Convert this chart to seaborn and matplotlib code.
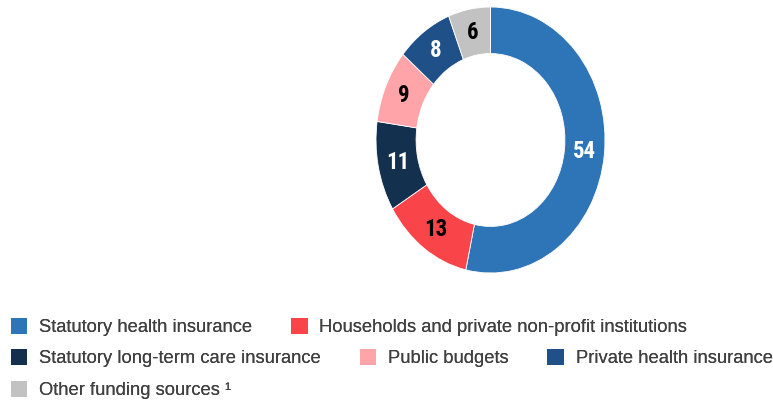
import numpy as np
import pandas as pd
import seaborn as sns
import matplotlib.pyplot as plt
from matplotlib.patches import Patch

sns.set_theme(style="white")
plt.rcParams['font.family'] = ['Liberation Sans', 'DejaVu Sans']

# funding shares (%), clockwise from 12 o'clock
sources = ['Statutory health insurance', 'Households and private non-profit institutions',
           'Statutory long-term care insurance', 'Public budgets',
           'Private health insurance', 'Other funding sources \u00b9']
shares = [54, 13, 11, 9, 8, 6]
colors = ['#2e75b8', '#f9444a', '#14304f', '#ffa4a8', '#1f5088', '#c2c2c2']
label_colors = ['white', 'black', 'white', 'black', 'white', 'black']

df = pd.DataFrame({'source': sources, 'share': shares})
pal = sns.color_palette(colors)

fig = plt.figure(figsize=(7.73, 4.05), dpi=100)
# donut is a bit taller than wide in the original
ax = fig.add_axes([376 / 773, 1 - 273 / 405, 229 / 773, 266 / 405])

wedges, _ = ax.pie(df['share'], colors=pal, startangle=90, counterclock=False,
                   radius=1, wedgeprops=dict(width=0.35, edgecolor='white', linewidth=0.6))
ax.set_aspect('auto')
ax.set_xlim(-1, 1)
ax.set_ylim(-1, 1)
ax.axis('off')

# value labels in the middle of the ring
for w, val, c in zip(wedges, df['share'], label_colors):
    mid = np.deg2rad((w.theta1 + w.theta2) / 2)
    r = 0.825
    ax.text(r * np.cos(mid), r * np.sin(mid), str(val), ha='center', va='center',
            fontsize=16.5, fontweight='bold', color=c,
            family=['Roboto Condensed', 'Liberation Sans'])

handles = [Patch(facecolor=c, edgecolor='none') for c in pal]

# legend wraps over three rows
rows = [(0, 2, 327, 2.1), (2, 5, 358, 2.1), (5, 6, 390, 2.0)]
for a, b, ypix, colsp in rows:
    leg = fig.legend(handles[a:b], df['source'][a:b], loc='center left',
                     bbox_to_anchor=(11 / 773, 1 - ypix / 405), ncol=b - a,
                     frameon=False, fontsize=13.2, borderpad=0, borderaxespad=0,
                     handlelength=0.9, handleheight=1.0, handletextpad=0.65,
                     columnspacing=colsp)
    for t in leg.get_texts():
        t.set_color('#404040')
    fig.add_artist(leg)

fig.savefig('out.png', dpi=100)
